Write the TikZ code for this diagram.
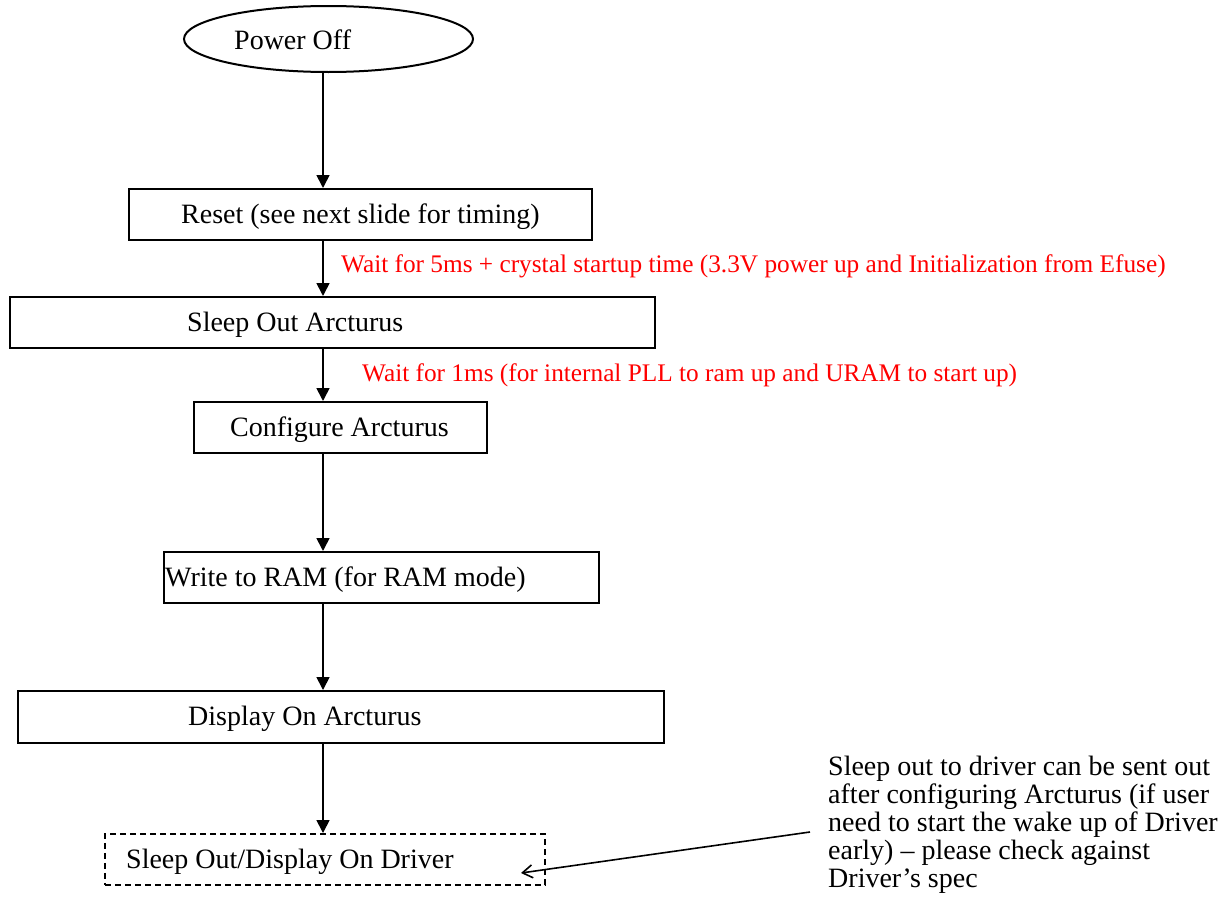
\documentclass[tikz,border=0pt]{standalone}
\usepackage{fontspec}
\setmainfont{Liberation Serif}
\usetikzlibrary{shapes.geometric,arrows.meta}
\begin{document}
\begin{tikzpicture}[x=1pt,y=-1pt,
  stepbox/.style={draw, line width=2pt, rectangle, inner sep=0pt, anchor=north west},
  dashbox/.style={stepbox, line width=1.8pt, dash pattern=on 6pt off 4pt},
  lbl/.style={anchor=base west, inner sep=0pt, font=\fontsize{28}{28}\selectfont},
  redlbl/.style={anchor=base west, inner sep=0pt, text=red, font=\fontsize{25.3}{26}\selectfont},
  flow/.style={line width=1.7pt, -{Triangle[length=13pt,width=13pt]}},
  notearrow/.style={line width=1.6pt, -{Straight Barb[length=10pt,width=13pt,line width=1.6pt]}},
]
\fill[white] (0,0) rectangle (1225,910);
\useasboundingbox (0,0) rectangle (1225,910);
\coordinate (col) at (323,0);

% start ellipse
\node[draw, ellipse, line width=2pt, minimum width=289pt, minimum height=66pt, inner sep=0pt] (power) at (328.5,39) {};
\node[lbl] (powerT) at (234,49) {Power Off};

% boxes
\node[stepbox, minimum width=463pt, minimum height=51pt] (reset) at (128,188) {};
\node[lbl] (resetT) at (181,223) {Reset (see next slide for timing)};

\node[stepbox, minimum width=645pt, minimum height=51pt] (sleep) at (9,296) {};
\node[lbl] (sleepT) at (187,331) {Sleep Out Arcturus};

\node[stepbox, minimum width=293pt, minimum height=51pt] (config) at (193,401) {};
\node[lbl] (configT) at (230,436) {Configure Arcturus};

\node[stepbox, minimum width=435pt, minimum height=51pt] (write) at (163,551) {};
\node[lbl] (writeT) at (165,586) {Write to RAM (for RAM mode)};

\node[stepbox, minimum width=646pt, minimum height=52pt] (display) at (17,690) {};
\node[lbl] (displayT) at (188,725) {Display On Arcturus};

\node[dashbox, minimum width=440pt, minimum height=51pt] (driver) at (104,833) {};
\node[lbl] (driverT) at (126,868) {Sleep Out/Display On Driver};

% red wait labels
\node[redlbl] (wait1) at (341,272) {Wait for 5ms + crystal startup time (3.3V power up and Initialization from Efuse)};
\node[redlbl] (wait2) at (362,381) {Wait for 1ms (for internal PLL to ram up and URAM to start up)};

% flow arrows
\draw[flow] (power.south -| col) -- (reset.north -| col);
\draw[flow] (reset.south -| col) -- (sleep.north -| col);
\draw[flow] (sleep.south -| col) -- (config.north -| col);
\draw[flow] (config.south -| col) -- (write.north -| col);
\draw[flow] (write.south -| col) -- (display.north -| col);
\draw[flow] (display.south -| col) -- (driver.north -| col);

% annotation
\node[anchor=north west, inner sep=0pt, align=left, font=\fontsize{28}{28}\selectfont] (note) at (828,756)
  {Sleep out to driver can be sent out\\after configuring Arcturus (if user\\need to start the wake up of Driver\\early) – please check against\\Driver’s spec};
\coordinate (noteStart) at (810,832);
\coordinate (noteTip) at (521,873);
\draw[notearrow] (noteStart) -- (noteTip);
\end{tikzpicture}
\end{document}
